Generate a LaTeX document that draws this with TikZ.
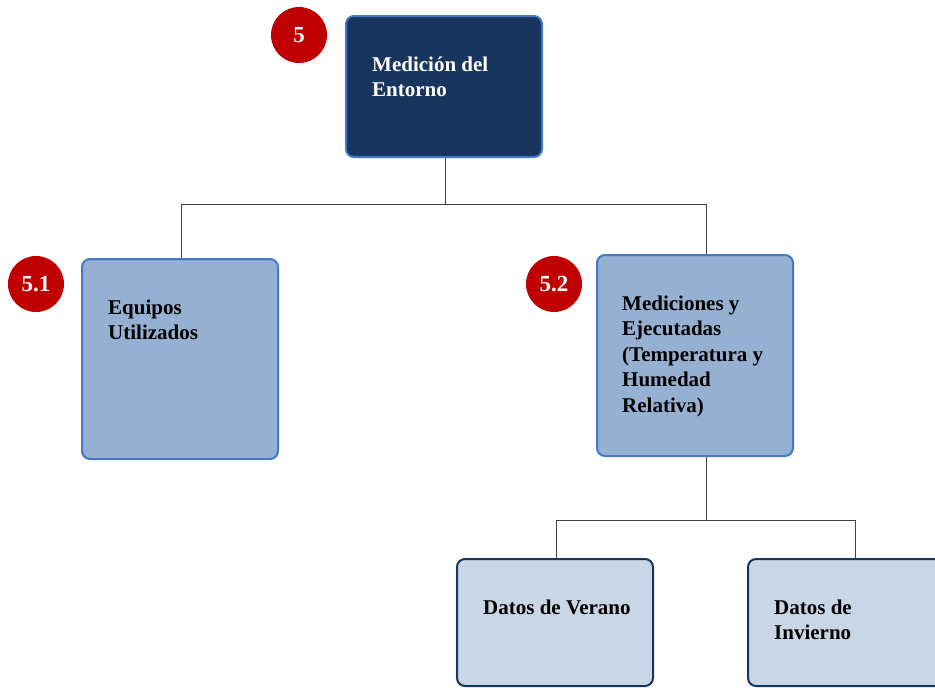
\documentclass[tikz,border=0pt]{standalone}
\usepackage{fontspec}
\setmainfont{Liberation Serif}
\definecolor{navy}{RGB}{24,54,93}
\definecolor{edgeblue}{RGB}{68,120,200}
\definecolor{midblue}{RGB}{149,176,209}
\definecolor{paleblue}{RGB}{201,214,230}
\definecolor{badgered}{RGB}{192,0,0}
\begin{document}
\begin{tikzpicture}[x=1pt,y=-1pt,
  box/.style={draw, line width=2pt, rounded corners=8pt, inner sep=0pt,
    outer sep=0pt, minimum width=196pt, anchor=north west},
  topbox/.style={box, fill=navy, draw=edgeblue},
  midbox/.style={box, fill=midblue, draw=edgeblue},
  leafbox/.style={box, fill=paleblue, draw=navy},
  label/.style={anchor=north west, inner sep=0pt, align=left,
    font=\fontsize{21}{25.5}\selectfont\bfseries},
  badge/.style={circle, fill=badgered, inner sep=0pt, minimum size=56pt,
    text=white, font=\fontsize{23}{26}\selectfont\bfseries},
  link/.style={draw=black!75, line width=1pt}]
  \useasboundingbox (0,0) rectangle (935,688);

  % tree connectors (drawn first, boxes cover their ends)
  \coordinate (rootfoot) at (445,157);
  \coordinate (j1) at (445,204);
  \coordinate (equiptop) at (181,259);
  \coordinate (medictop) at (706,255);
  \coordinate (medicfoot) at (706,456);
  \coordinate (j2) at (706,520);
  \coordinate (veranotop) at (556,559);
  \coordinate (inviernotop) at (855,559);
  \draw[link] (rootfoot) -- (j1);
  \draw[link] (j1) -| (equiptop);
  \draw[link] (j1) -| (medictop);
  \draw[link] (medicfoot) -- (j2);
  \draw[link] (j2) -| (veranotop);
  \draw[link] (j2) -| (inviernotop);

  % boxes
  \node[topbox, minimum height=141pt] (root) at (346,16) {};
  \node[midbox, minimum height=200pt] (equip) at (82,259) {};
  \node[midbox, minimum height=201pt] (medic) at (597,255) {};
  \node[leafbox, minimum height=127pt] (verano) at (457,559) {};
  \node[leafbox, minimum height=127pt] (invierno) at (748,559) {};

  % box texts
  \node[label, text=white] (troot) at (372,53) {\strut Medición del\\Entorno};
  \node[label] (tequip) at (108,296) {\strut Equipos\\Utilizados};
  \node[label] (tmedic) at (622,292) {\strut Mediciones y\\Ejecutadas\\(Temperatura y\\Humedad\\Relativa)};
  \node[label] (tverano) at (483,596) {\strut Datos de Verano};
  \node[label] (tinvierno) at (774,596) {\strut Datos de\\Invierno};

  % numbered badges
  \node[badge] (b5) at (299,35) {5};
  \node[badge] (b51) at (36,284) {5.1};
  \node[badge] (b52) at (554,284) {5.2};
\end{tikzpicture}
\end{document}
